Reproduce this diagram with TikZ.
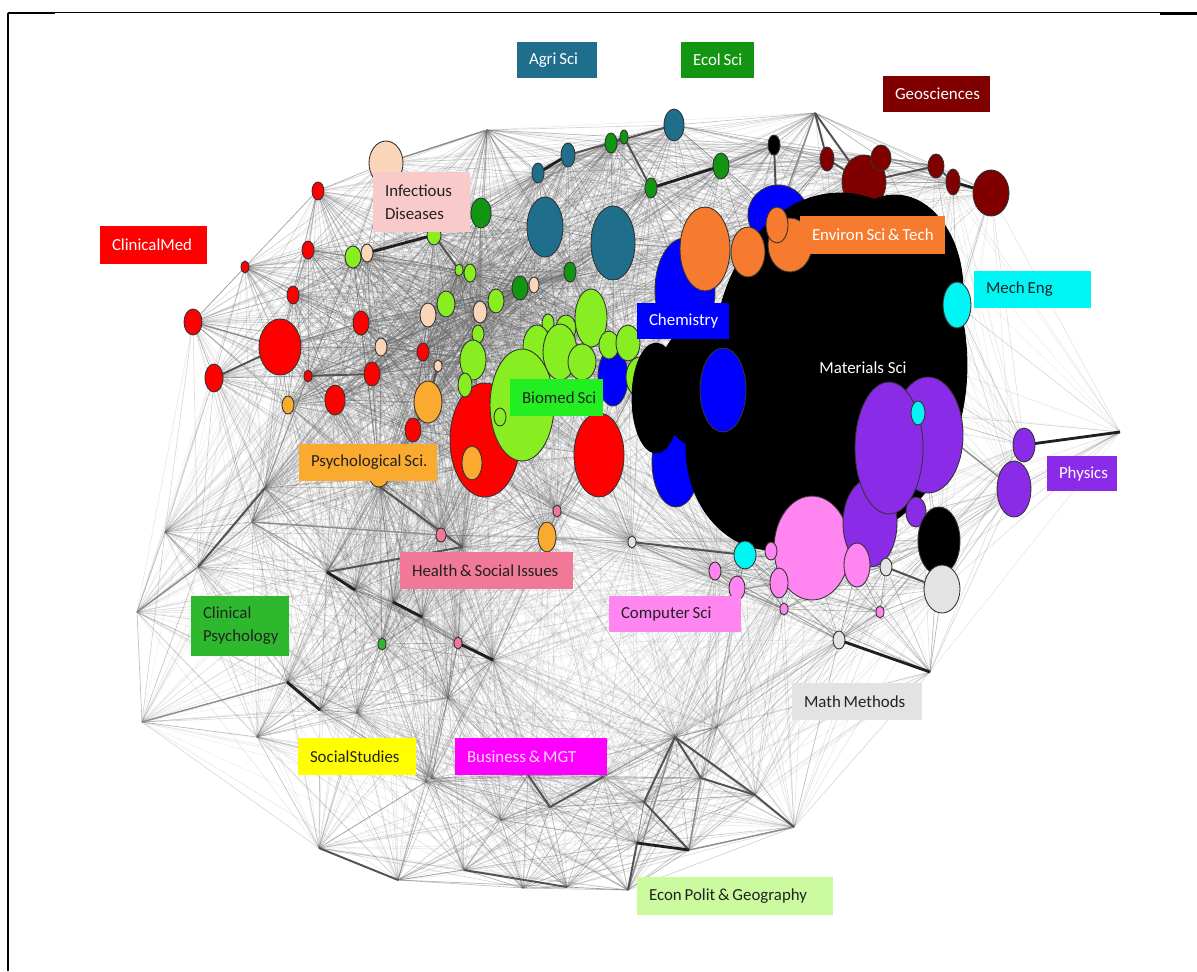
\documentclass[tikz,border=0pt]{standalone}
\usepackage{fontspec}
\setmainfont{Carlito}
\usetikzlibrary{shapes.geometric}

\definecolor{agri}{HTML}{1F6E8C}
\definecolor{eco}{HTML}{129612}
\definecolor{geo}{HTML}{800000}
\definecolor{infn}{HTML}{FAD5B8}
\definecolor{infl}{HTML}{F9CACA}
\definecolor{cmed}{HTML}{FF0000}
\definecolor{bio}{HTML}{88EE22}
\definecolor{biol}{HTML}{22EE22}
\definecolor{env}{HTML}{F77B2E}
\definecolor{chem}{HTML}{0000FF}
\definecolor{mech}{HTML}{00F5F5}
\definecolor{phys}{HTML}{8A2BE8}
\definecolor{comp}{HTML}{FF85F0}
\definecolor{math}{HTML}{E3E3E3}
\definecolor{psy}{HTML}{FBAA30}
\definecolor{hsi}{HTML}{F27898}
\definecolor{cpsy}{HTML}{2EB82E}
\definecolor{soc}{HTML}{FFFF00}
\definecolor{bus}{HTML}{FF00FF}
\definecolor{econ}{HTML}{CCFA9E}
\definecolor{ink}{HTML}{222222}

\newcommand{\lblfont}{\fontsize{9.6}{13}\selectfont}

% field node: name, colour, x, y, x-radius, y-radius (in pixels)
\newcommand{\blob}[6]{%
  \pgfmathsetlengthmacro\blobw{#5*0.04cm}%
  \pgfmathsetlengthmacro\blobh{#6*0.04cm}%
  \node[nd, fill=#2, minimum width=\blobw, minimum height=\blobh] (#1) at (#3,#4) {};}

% black mass of materials science: name, x, y, x-radius, y-radius
\newcommand{\massblob}[5]{%
  \pgfmathsetlengthmacro\blobw{#4*0.04cm}%
  \pgfmathsetlengthmacro\blobh{#5*0.04cm}%
  \node[nd, draw=black, fill=black, minimum width=\blobw, minimum height=\blobh] (#1) at (#2,#3) {};}

% category label: name, fill, text colour, cx, cy, width, height, text
\newcommand{\catlabel}[8]{%
  \pgfmathsetlengthmacro\lblw{#6*0.02cm}%
  \pgfmathsetlengthmacro\lblh{#7*0.02cm}%
  \pgfmathsetlengthmacro\lbltw{(#6-24)*0.02cm}%
  \node[lab, fill=#2, text=#3, minimum width=\lblw, minimum height=\lblh, text width=\lbltw] (#1) at (#4,#5) {\spaceskip=0.17em\relax #8};}

\begin{document}
\begin{tikzpicture}[x=0.02cm,y=-0.02cm,
  mesh/.style={draw=black!62, line width=0.38pt},
  medium/.style={draw=black!45, line width=0.8pt},
  strong/.style={draw=black!68, line width=1.1pt},
  heavy/.style={draw=black!88, line width=1.6pt},
  nd/.style={ellipse, inner sep=0pt, outer sep=0pt, draw=black!80, line width=0.5pt},
  lab/.style={rectangle, inner sep=0pt, font=\lblfont, align=left},
]
\useasboundingbox (0,0) rectangle (1197,971);

% ---------- graph vertices ----------
\def\V{386/163, 317/191, 487/130, 481/213, 538/173, 568/155, 545/227, 613/243, 674/125, 611/143,
624/137, 721/166, 651/188, 774/145, 815/113, 827/159, 864/182, 881/158, 936/166, 953/182,
991/193, 778/215, 705/249, 748/252, 777/225, 685/290, 723/390, 613/377, 840/330, 957/305,
918/413, 1024/445, 1014/489, 1120/432, 939/541, 942/589, 886/567, 880/612, 857/565, 808/540,
784/609, 779/583, 745/555, 738/590, 715/571, 632/542, 839/640, 930/672, 245/267, 308/250,
293/295, 193/322, 280/347, 214/378, 308/376, 335/400, 361/323, 372/374, 423/352, 413/430,
485/440, 599/455, 288/405, 428/402, 472/465, 547/537, 379/478, 367/253, 428/315, 381/347,
480/312, 534/285, 438/366, 353/257, 434/235, 459/270, 470/273, 446/304, 496/301, 478/334,
473/360, 522/405, 560/345, 591/318, 628/343, 640/377, 520/288, 570/272, 441/535, 557/511,
458/643, 382/644, 265/488, 198/567, 165/532, 137/612, 142/722, 252/522, 327/572, 355/590,
393/602, 422/617, 462/547, 287/682, 320/710, 357/713, 448/698, 493/660, 432/778, 257/737,
380/487, 675/737, 701/778, 755/795, 794/827, 689/850, 637/843, 628/890, 644/802, 603/777,
550/807, 528/775, 501/820, 464/870, 567/887, 523/888, 398/880, 319/848, 426/782, 717/727}

\foreach \xa/\ya [count=\i] in \V { \coordinate (v\i) at (\xa,\ya); }

% weighted links: shorter links are drawn darker
\foreach \xa/\ya [count=\i] in \V {
  \foreach \xb/\yb [count=\j] in \V {
    \ifnum\j>\i
      \pgfmathsetmacro\dd{100*veclen((\xb-\xa)/100,(\yb-\ya)/100)}
      \ifdim\dd pt<400pt
        \pgfmathsetmacro\op{round(50*(0.08+0.6*(1-\dd/440)*(1-\dd/440)))/50}
        \draw[mesh, draw opacity=\op] (v\i) -- (v\j);
      \fi
    \fi
  }
}

% strong links
\foreach \a/\b in {1/3, 15/22, 52/53, 53/57, 97/104, 94/96, 98/89, 113/116, 112/118, 115/116, 12/14, 18/19, 33/31}
  \draw[medium] (v\a) -- (v\b);
\foreach \a/\b in {6/10, 10/11, 11/13, 9/10, 14/25, 15/16, 15/17, 16/17, 17/19, 19/20, 75/76, 74/68, 76/77,
  54/53, 55/58, 73/64, 64/60, 37/36, 46/43, 93/94, 99/103, 112/113, 113/114, 112/114, 114/115, 119/116,
  122/121, 121/120, 124/125, 128/127, 118/117, 112/119, 111/103}
  \draw[strong] (v\a) -- (v\b);
\foreach \a/\b in {5/6, 13/12, 20/21, 68/75, 32/34, 47/48, 99/100, 101/102, 104/105, 91/108, 117/116}
  \draw[heavy] (v\a) -- (v\b);

% ---------- field nodes ----------
% agricultural sciences
\blob{t1}{agri}{538}{173}{6}{10}
\blob{t2}{agri}{568}{155}{7}{12}
\blob{t3}{agri}{545}{227}{18}{30}
\blob{t4}{agri}{613}{243}{22}{37}
\blob{t5}{agri}{674}{125}{10}{16}
% ecology
\blob{e1}{eco}{481}{213}{10}{15}
\blob{e2}{eco}{611}{143}{6}{10}
\blob{e3}{eco}{624}{137}{4}{7}
\blob{e4}{eco}{721}{166}{8}{13}
\blob{e5}{eco}{651}{188}{6}{10}
\blob{e6}{eco}{520}{288}{8}{12}
\blob{e7}{eco}{570}{272}{6}{10}
% geosciences
\blob{g1}{geo}{827}{159}{7}{12}
\blob{g2}{geo}{864}{182}{22}{27}
\blob{g3}{geo}{881}{158}{10}{13}
\blob{g4}{geo}{936}{166}{8}{12}
\blob{g5}{geo}{953}{182}{7}{13}
\blob{g6}{geo}{991}{193}{18}{23}
\blob{k1}{black}{774}{145}{6}{10}
% infectious diseases
\blob{i1}{infn}{386}{163}{17}{22}
\blob{i2}{infn}{367}{253}{6}{9}
\blob{i3}{infn}{428}{315}{8}{12}
\blob{i4}{infn}{381}{347}{6}{9}
\blob{i5}{infn}{480}{312}{7}{11}
\blob{i6}{infn}{534}{285}{5}{8}
\blob{i7}{infn}{438}{366}{4}{6}
% clinical medicine
\blob{r1}{cmed}{318}{191}{6}{9}
\blob{r2}{cmed}{245}{267}{4}{6}
\blob{r3}{cmed}{308}{250}{6}{9}
\blob{r4}{cmed}{293}{295}{6}{9}
\blob{r5}{cmed}{193}{322}{9}{13}
\blob{r6}{cmed}{280}{347}{21}{28}
\blob{r7}{cmed}{214}{378}{9}{14}
\blob{r8}{cmed}{308}{376}{4}{6}
\blob{r9}{cmed}{335}{400}{10}{15}
\blob{r10}{cmed}{361}{323}{8}{12}
\blob{r11}{cmed}{372}{374}{8}{12}
\blob{r12}{cmed}{423}{352}{6}{9}
\blob{r13}{cmed}{413}{430}{8}{12}
\blob{r14}{cmed}{485}{440}{35}{57}
\blob{r15}{cmed}{599}{455}{25}{42}
% biomedical sciences
\blob{b1}{bio}{353}{257}{8}{11}
\blob{b2}{bio}{434}{235}{7}{10}
\blob{b3}{bio}{459}{270}{4}{6}
\blob{b4}{bio}{470}{273}{6}{9}
\blob{b5}{bio}{446}{304}{9}{13}
\blob{b6}{bio}{496}{301}{8}{12}
\blob{b7}{bio}{478}{334}{6}{9}
\blob{b8}{bio}{473}{360}{13}{20}
\blob{b9}{bio}{465}{385}{7}{12}
\blob{c3}{chem}{613}{377}{15}{29}
\blob{b12}{bio}{548}{323}{6}{9}
\blob{b13}{bio}{566}{328}{10}{13}
\blob{b14}{bio}{537}{347}{14}{22}
\blob{b16}{bio}{591}{318}{16}{29}
\blob{b15}{bio}{560}{352}{17}{28}
\blob{b17}{bio}{582}{362}{14}{18}
\blob{b20}{bio}{609}{345}{10}{14}
\blob{b10}{bio}{522}{405}{32}{56}
\blob{b11}{bio}{500}{417}{6}{9}
% psychological sciences
\blob{s1}{psy}{288}{405}{6}{9}
\blob{s2}{psy}{428}{402}{14}{21}
\blob{s3}{psy}{472}{463}{10}{17}
\blob{s4}{psy}{547}{537}{9}{15}
\blob{s5}{psy}{379}{478}{9}{9}
% health, clinical psychology
\blob{h1}{hsi}{441}{535}{5}{7}
\blob{h2}{hsi}{557}{511}{4}{6}
\blob{h3}{hsi}{458}{643}{4}{6}
\blob{u1}{cpsy}{382}{644}{4}{6}
% chemistry, materials, environment
\blob{c1}{chem}{778}{215}{30}{30}
\blob{c2}{chem}{685}{290}{30}{52}
\blob{c4}{chem}{676}{462}{24}{45}
\blob{b18}{bio}{628}{343}{12}{18}
\blob{b19}{bio}{640}{377}{14}{20}
\massblob{m1}{656}{398}{24}{55}
\massblob{m5}{700}{385}{42}{62}
\massblob{m2}{840}{365}{127}{172}
\massblob{m3}{895}{290}{68}{95}
\massblob{m4}{772}{448}{86}{102}
\blob{c5}{chem}{723}{390}{23}{42}
\blob{o3}{env}{790}{245}{22}{27}
\blob{o1}{env}{705}{249}{25}{42}
\blob{o2}{env}{748}{252}{17}{25}
\blob{o4}{env}{777}{225}{11}{18}
% computer science, physics
\blob{p1}{comp}{812}{548}{38}{52}
\blob{q3}{phys}{870}{523}{27}{44}
\blob{q2}{phys}{928}{435}{35}{58}
\blob{q1}{phys}{889}{448}{34}{66}
\blob{q4}{phys}{916}{512}{10}{15}
\blob{q5}{phys}{1024}{445}{11}{17}
\blob{q6}{phys}{1014}{489}{17}{28}
\blob{p2}{comp}{857}{565}{13}{22}
\blob{p3}{comp}{779}{583}{9}{15}
\blob{p4}{comp}{737}{588}{8}{12}
\blob{p5}{comp}{715}{571}{6}{9}
\blob{p6}{comp}{784}{609}{4}{6}
\blob{p7}{comp}{880}{612}{4}{6}
\blob{p8}{comp}{771}{551}{6}{9}
% mechanical engineering
\blob{y1}{mech}{957}{305}{14}{23}
\blob{y2}{mech}{918}{413}{7}{12}
\blob{y3}{mech}{745}{555}{11}{14}
% materials / mathematical methods outliers
\blob{k2}{black}{939}{541}{21}{34}
\blob{w1}{math}{942}{589}{18}{24}
\blob{w2}{math}{886}{567}{6}{9}
\blob{w3}{math}{632}{542}{4}{6}
\blob{w4}{math}{839}{640}{6}{9}

% ---------- category labels ----------
\catlabel{lagri}{agri}{white}{557}{60}{80}{36}{\mbox{Agri Sci}}
\catlabel{leco}{eco}{white}{717.5}{60}{73}{36}{\mbox{Ecol Sci}}
\catlabel{lgeo}{geo}{white}{936.5}{94}{107}{36}{\mbox{Geosciences}}
\catlabel{linf}{infl}{ink}{421.5}{202}{97}{60}{Infectious\\Diseases}
\catlabel{lcmed}{cmed}{white}{153.5}{245}{107}{38}{\mbox{ClinicalMed}}
\catlabel{lenv}{env}{white}{872.5}{235}{145}{38}{\mbox{Environ Sci \& Tech}}
\catlabel{lmech}{mech}{ink}{1032.5}{289.5}{117}{37}{\mbox{Mech Eng}}
\catlabel{lchem}{chem}{white}{683}{321}{92}{36}{\mbox{Chemistry}}
\node[font=\lblfont, text=white] (lmat) at (863,368) {Materials Sci};
\catlabel{lbio}{biol}{ink}{556.5}{397.5}{93}{37}{\mbox{Biomed Sci}}
\catlabel{lpsy}{psy}{ink}{368}{462.5}{138}{37}{\mbox{Psychological Sci.}}
\catlabel{lphys}{phys}{white}{1082}{473.5}{70}{35}{\mbox{Physics}}
\catlabel{lhsi}{hsi}{ink}{486.5}{570.5}{173}{37}{\mbox{Health \& Social Issues}}
\catlabel{lcomp}{comp}{ink}{675}{614}{132}{36}{\mbox{Computer Sci}}
\catlabel{lcpsy}{cpsy}{ink}{240}{626}{98}{60}{Clinical\\Psychology}
\catlabel{lmath}{math}{ink}{857}{701.5}{130}{37}{\mbox{Math Methods}}
\catlabel{lsoc}{soc}{ink}{357}{756.5}{118}{37}{\mbox{SocialStudies}}
\catlabel{lbus}{bus}{white!85!bus}{531}{756.5}{152}{37}{\mbox{Business \& MGT}}
\catlabel{lecon}{econ}{ink}{735}{896}{196}{38}{\mbox{Econ Polit \& Geography}}

% ---------- frame ----------
\draw[line width=1pt] (8.2,971) -- (8.2,12.8);
\draw[line width=0.6pt] (7.5,12.8) -- (1197,12.8);
\draw[line width=1.1pt] (7.5,13.2) -- (55,13.2);
\draw[line width=1.5pt] (1160,13.6) -- (1197,13.6);
\end{tikzpicture}
\end{document}
